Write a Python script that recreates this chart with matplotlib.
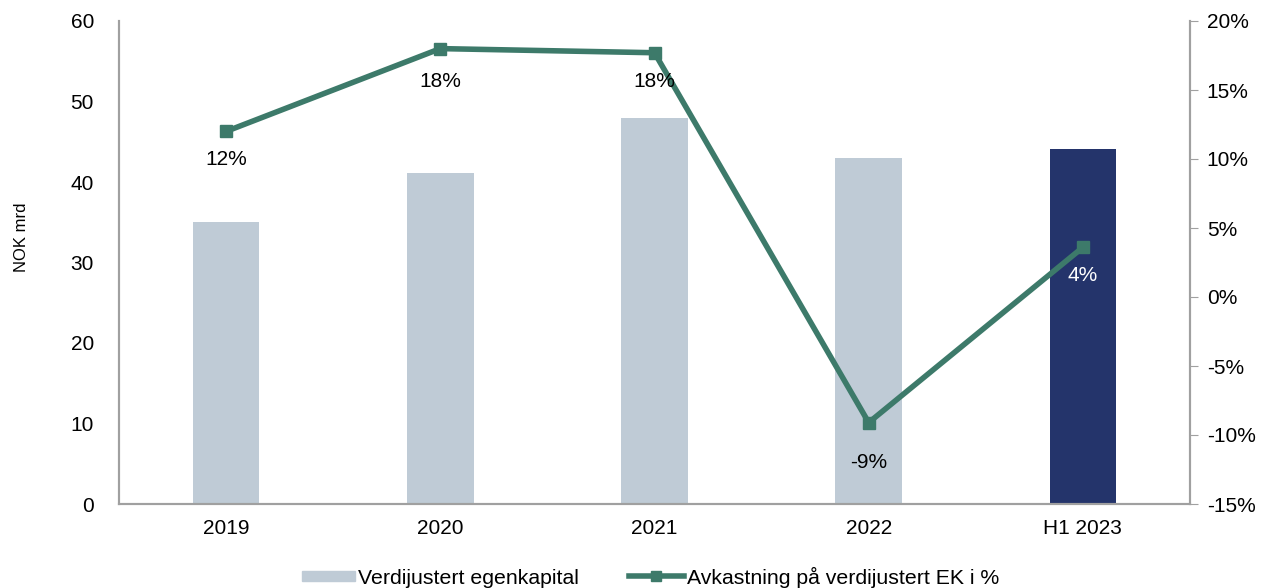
import matplotlib
matplotlib.use("Agg")
import matplotlib.pyplot as plt
from matplotlib.lines import Line2D
from matplotlib.patches import Patch, Rectangle
from matplotlib.legend_handler import HandlerPatch

plt.rcParams['font.family'] = ['Liberation Sans', 'DejaVu Sans']

categories = ["2019", "2020", "2021", "2022", "H1 2023"]
equity = [35.0, 41.1, 48.0, 43.0, 44.1]
returns = [12.0, 18.0, 17.7, -9.1, 3.6]
return_labels = ["12%", "18%", "18%", "-9%", "4%"]

bar_colors = ["#BFCBD6", "#BFCBD6", "#BFCBD6", "#BFCBD6", "#24346B"]
line_color = "#3D7A6A"
spine_color = "#A0A0A0"
label_offsets = [-20, -24, -21, -29, -20]

fig = plt.figure(figsize=(12.66, 5.88), dpi=100)
ax = fig.add_axes([119/1266, 1-504/588, (1190-119)/1266, (504-21)/588])
ax2 = ax.twinx()

x = list(range(len(categories)))
ax.bar(x, equity, width=0.31, color=bar_colors, zorder=1)
ax.set_xlim(-0.5, len(categories)-0.5)
ax.set_ylim(0, 60)
ax.set_yticks([0, 10, 20, 30, 40, 50, 60])
ax.set_xticks(x)
ax.set_xticklabels(categories)
ax.tick_params(axis='both', labelsize=15, length=0, pad=11)
ax.tick_params(axis='y', pad=18)
ax.set_ylabel("NOK mrd", fontsize=12)
ax.yaxis.set_label_coords(-0.084, 0.553)

ax2.plot(x, returns, color=line_color, lw=4, marker='s', markersize=8, zorder=3)
ax2.set_ylim(-15, 20)
ax2.set_yticks(range(-15, 21, 5))
ax2.set_yticklabels([f"{v}%" for v in range(-15, 21, 5)])
ax2.tick_params(axis='y', labelsize=15, length=6, color=spine_color, pad=6, direction='out')

for i, (v, lab) in enumerate(zip(returns, return_labels)):
    col = "white" if i == len(returns)-1 else "black"
    ax2.annotate(lab, (i, v), xytext=(0, label_offsets[i]), textcoords='offset points',
                 ha='center', va='center', fontsize=15, color=col, zorder=4)

for a in (ax, ax2):
    a.spines['top'].set_visible(False)
    for s in ('left', 'right', 'bottom'):
        a.spines[s].set_color(spine_color)
        a.spines[s].set_linewidth(1.5)
ax2.set_zorder(ax.get_zorder()+1)
ax2.patch.set_visible(False)


def short_patch(legend, orig_handle, xdescent, ydescent, width, height, fontsize):
    w = width * 0.95
    h = height * 0.67
    return Rectangle((width - w - xdescent, -ydescent + (height - h) / 2), w, h)


handles = [Patch(color="#BFCBD6"),
           Line2D([0], [0], color=line_color, lw=4, marker='s', markersize=7)]
fig.legend(handles, ["Verdijustert egenkapital", "Avkastning på verdijustert EK i %"],
           loc='center', bbox_to_anchor=(0.513, 1-577/588), ncol=2, frameon=False,
           fontsize=15.3, handlelength=2.6, handletextpad=0.15, columnspacing=2.35,
           handler_map={Patch: HandlerPatch(patch_func=short_patch)})

fig.savefig("out.png", dpi=100)
